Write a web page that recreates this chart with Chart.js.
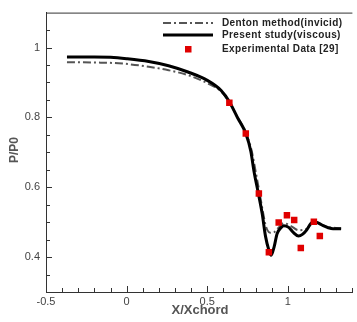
<!DOCTYPE html>
<html>
<head>
<meta charset="utf-8">
<script src="https://cdn.jsdelivr.net/npm/chart.js@4/dist/chart.umd.min.js"></script>
<style>
html,body{margin:0;padding:0;background:#fff;}
canvas{display:block;}
</style>
</head>
<body>
<canvas id="c" width="357" height="322"></canvas>
<script>
// ---- data ----
const presentX = [-0.37,-0.2,-0.1,0.0,0.137,0.26,0.38,0.5,0.586,0.637,0.688,0.739,0.77,0.79,0.817,0.841,0.861,0.882,0.896,0.915,0.933,0.955,0.974,1.005,1.035,1.066,1.09,1.117,1.14,1.158,1.19,1.219,1.25,1.28,1.33];
const presentY = [0.973,0.973,0.972,0.968,0.960,0.948,0.930,0.906,0.877,0.845,0.799,0.754,0.703,0.645,0.582,0.523,0.460,0.420,0.405,0.430,0.467,0.483,0.490,0.485,0.470,0.460,0.465,0.478,0.495,0.502,0.497,0.490,0.484,0.481,0.481];
const dentonX = [-0.37,-0.2,-0.05,0.137,0.26,0.38,0.5,0.586,0.637,0.688,0.739,0.775,0.8,0.825,0.845,0.86,0.872,0.89,0.913,0.943,0.974,1.015,1.066,1.117,1.158,1.2,1.25,1.28,1.33];
const dentonY = [0.958,0.957,0.955,0.945,0.935,0.921,0.898,0.874,0.843,0.800,0.757,0.705,0.645,0.582,0.530,0.495,0.478,0.470,0.471,0.485,0.497,0.490,0.477,0.481,0.498,0.494,0.486,0.484,0.482];
const expX = [0.637,0.739,0.82,0.882,0.943,0.994,1.039,1.08,1.161,1.198];
const expY = [0.842,0.754,0.582,0.414,0.499,0.520,0.506,0.426,0.501,0.460];
const xMajorTicks = [-0.5,0,0.5,1];
const yMajorTicks = [0.4,0.6,0.8,1];
const legendLabels = ['Denton method(invicid)','Present study(viscous)','Experimental Data [29]'];
const xTitle = 'X/Xchord';
const yTitle = 'P/P0';

const pts = (xs, ys) => xs.map((x, i) => ({x: x, y: ys[i]}));
const FONT = "'Liberation Sans', Arial, sans-serif";

const decor = {
  id: 'decor',
  afterDraw(chart) {
    const ctx = chart.ctx;
    const a = chart.chartArea;
    const xs = chart.scales.x, ys = chart.scales.y;
    ctx.save();
    ctx.strokeStyle = '#333';
    ctx.lineWidth = 1;
    // top frame line
    ctx.beginPath();
    ctx.moveTo(a.left, a.top + 0.5);
    ctx.lineTo(a.right, a.top + 0.5);
    ctx.stroke();
    // inner ticks x
    for (let k = -5; k <= 14; k++) {
      const v = k / 10;
      const px = Math.round(xs.getPixelForValue(v)) + 0.5;
      const major = xMajorTicks.some(m => Math.abs(m - v) < 1e-6);
      const len = major ? 6 : 4;
      ctx.beginPath();
      ctx.moveTo(px, a.bottom);
      ctx.lineTo(px, a.bottom - len);
      ctx.stroke();
    }
    // inner ticks y
    for (let k = 7; k <= 21; k++) {
      const v = k / 20;
      const py = Math.round(ys.getPixelForValue(v)) + 0.5;
      const major = yMajorTicks.some(m => Math.abs(m - v) < 1e-6);
      const len = major ? 6 : 4;
      ctx.beginPath();
      ctx.moveTo(a.left, py);
      ctx.lineTo(a.left + len, py);
      ctx.stroke();
    }
    // axis titles
    ctx.fillStyle = '#555';
    ctx.font = 'bold 13px ' + FONT;
    ctx.textAlign = 'center';
    ctx.textBaseline = 'middle';
    ctx.fillText(xTitle, 200, 310);
    ctx.save();
    ctx.translate(15, 150);
    ctx.rotate(-Math.PI / 2);
    ctx.font = 'bold 12px ' + FONT;
    ctx.fillText(yTitle, 0, 0);
    ctx.restore();
    // legend
    const lx0 = 163, lx1 = 213, tx = 222;
    const rows = [23, 35, 49];
    ctx.strokeStyle = '#555';
    ctx.lineWidth = 2;
    ctx.setLineDash([8, 3, 2, 3]);
    ctx.beginPath(); ctx.moveTo(lx0, rows[0]); ctx.lineTo(lx1, rows[0]); ctx.stroke();
    ctx.setLineDash([]);
    ctx.strokeStyle = '#000';
    ctx.lineWidth = 3;
    ctx.beginPath(); ctx.moveTo(lx0, rows[1]); ctx.lineTo(lx1, rows[1]); ctx.stroke();
    ctx.fillStyle = '#e00000';
    ctx.fillRect(185, rows[2] - 3, 6.5, 6.5);
    ctx.fillStyle = '#222';
    ctx.font = 'bold 10px ' + FONT;
    try { ctx.letterSpacing = '0.4px'; } catch (e) {}
    ctx.textAlign = 'left';
    ctx.textBaseline = 'middle';
    legendLabels.forEach((t, i) => ctx.fillText(t, tx, rows[i]));
    ctx.restore();
  }
};

new Chart(document.getElementById('c'), {
  type: 'scatter',
  data: {
    datasets: [
      {
        label: legendLabels[0],
        data: pts(dentonX, dentonY),
        showLine: true,
        borderColor: '#555',
        borderWidth: 2,
        borderDash: [8, 3, 2, 3],
        pointRadius: 0,
        cubicInterpolationMode: 'monotone',
        order: 3
      },
      {
        label: legendLabels[1],
        data: pts(presentX, presentY),
        showLine: true,
        borderColor: '#000',
        borderWidth: 3,
        pointRadius: 0,
        cubicInterpolationMode: 'monotone',
        order: 2
      },
      {
        label: legendLabels[2],
        data: pts(expX, expY),
        showLine: false,
        pointStyle: 'rect',
        pointRadius: 4.6,
        backgroundColor: '#e00000',
        borderColor: '#e00000',
        borderWidth: 0,
        order: 1
      }
    ]
  },
  options: {
    responsive: false,
    animation: false,
    devicePixelRatio: 1,
    layout: {padding: {top: 9, right: 1, left: 0, bottom: 0}},
    plugins: {legend: {display: false}, tooltip: {enabled: false}},
    scales: {
      x: {
        type: 'linear',
        min: -0.5, max: 1.4,
        afterFit(s) { s.height = 30; },
        grid: {display: false, drawTicks: false},
        border: {display: true, color: '#333', width: 1},
        ticks: {
          stepSize: 0.1,
          autoSkip: false,
          maxRotation: 0,
          padding: 3,
          color: '#444',
          font: {family: FONT, size: 11},
          callback(v) {
            const m = xMajorTicks.find(t => Math.abs(t - v) < 1e-6);
            return m === undefined ? '' : String(m);
          }
        }
      },
      y: {
        type: 'linear',
        min: 0.3, max: 1.1,
        afterFit(s) { s.width = 46; },
        grid: {display: false, drawTicks: false},
        border: {display: true, color: '#333', width: 1},
        ticks: {
          stepSize: 0.05,
          autoSkip: false,
          padding: 6,
          color: '#444',
          font: {family: FONT, size: 11},
          callback(v) {
            const m = yMajorTicks.find(t => Math.abs(t - v) < 1e-6);
            return m === undefined ? '' : String(m);
          }
        }
      }
    }
  },
  plugins: [decor]
});
</script>
</body>
</html>
